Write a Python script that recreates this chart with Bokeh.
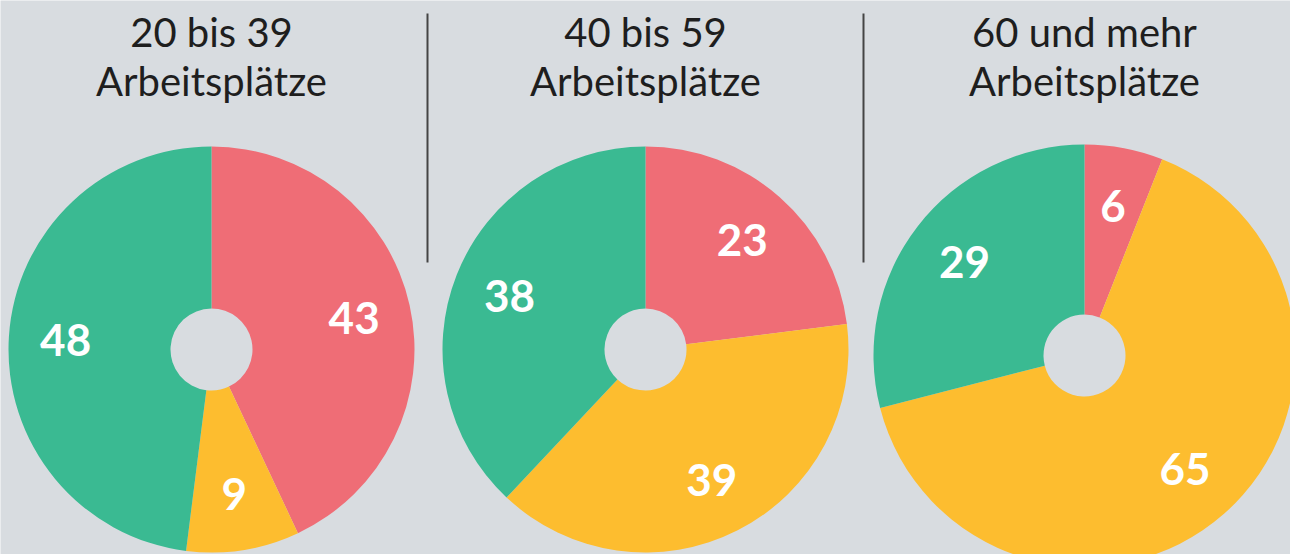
import math
from bokeh.plotting import figure
from bokeh.models import Range1d, ColumnDataSource
from bokeh.core.properties import value
from bokeh.embed import file_html
from bokeh.resources import INLINE

# ---- data ----
groups = ["20 bis 39", "40 bis 59", "60 und mehr"]
subtitle = "Arbeitsplätze"
categories = ["rot", "gelb", "grün"]
values_20_39 = [43, 9, 48]
values_40_59 = [23, 39, 38]
values_60_plus = [6, 65, 29]
series = [values_20_39, values_40_59, values_60_plus]

# ---- style / layout ----
W, H = 1290, 554
BG = "#d8dce0"
colors = ["#ef6d76", "#fdbd2f", "#3aba92"]
centers_px = [(211, 349, 203), (645, 349, 203), (1084, 355, 211)]  # x, y from top, radius
inner_r = 41
label_frac = 0.72
sep_x = [427, 863]

p = figure(width=W, height=H, x_range=Range1d(0, W), y_range=Range1d(0, H),
           output_backend="svg", toolbar_location=None, min_border=0)
p.axis.visible = False
p.grid.visible = False
p.outline_line_color = None
p.background_fill_color = BG
p.border_fill_color = BG

for (cx, cy_px, R), vals, title in zip(centers_px, series, groups):
    cy = H - cy_px
    total = sum(vals)
    starts, ends, lx, ly, txt = [], [], [], [], []
    cum = 0.0
    for v in vals:
        a0 = math.pi / 2 - 2 * math.pi * cum / total
        cum += v
        a1 = math.pi / 2 - 2 * math.pi * cum / total
        starts.append(a0)
        ends.append(a1)
        mid = (a0 + a1) / 2
        lx.append(cx + label_frac * R * math.cos(mid))
        ly.append(cy + label_frac * R * math.sin(mid))
        txt.append(str(v))
    src = ColumnDataSource(dict(x=[cx] * len(vals), y=[cy] * len(vals), s=starts, e=ends,
                                c=colors, lx=lx, ly=ly, t=txt))
    p.annular_wedge(x="x", y="y", inner_radius=inner_r, outer_radius=R,
                    start_angle="s", end_angle="e", direction="clock",
                    fill_color="c", line_color=None, source=src)
    p.text(x="lx", y="ly", text="t", source=src, text_color="white",
           text_font=value("Lato"), text_font_style="bold", text_font_size="44px",
           text_align="center", text_baseline="middle")
    p.text(x=[cx, cx], y=[H - 31, H - 80], text=[title, subtitle], text_color="#1e1e1e",
           text_font=value("Lato"), text_font_size="40px",
           text_align="center", text_baseline="middle")

for sx in sep_x:
    p.line(x=[sx, sx], y=[H - 13, H - 262], line_color="#444444", line_width=2)

open("out.html", "w").write(file_html(p, INLINE))
